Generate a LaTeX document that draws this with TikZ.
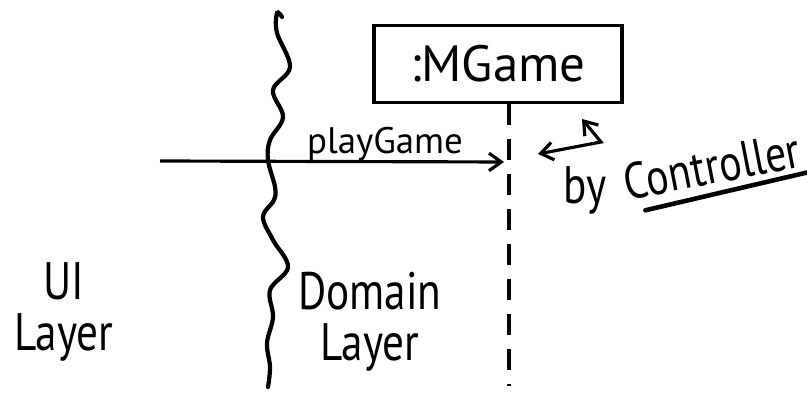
\documentclass[tikz,border=0pt]{standalone}
\usepackage{fontspec}
\newfontfamily\hand{PT Sans}[FakeStretch=0.82]
\newfontfamily\handwide{PT Sans}
\usetikzlibrary{positioning,arrows.meta}

\begin{document}
\begin{tikzpicture}[x=0.02cm, y=-0.02cm,
  obj/.style={draw, line width=2.2pt, minimum width=4.96cm, minimum height=1.54cm,
              inner sep=0pt, font=\handwide\fontsize{29}{29}\selectfont},
  lbl/.style={align=center, font=\hand\fontsize{30}{29}\selectfont},
  msgfont/.style={font=\handwide\fontsize{21}{21}\selectfont},
  life/.style={line width=2pt, dash pattern=on 0.42cm off 0.28cm},
  arr/.style={-{Straight Barb[length=7pt,width=10pt]}, line width=1.8pt},
  wave/.style={line width=2.4pt, line cap=round},
  uline/.style={line width=2.6pt, line cap=round},
]
\useasboundingbox (0,0) rectangle (807,404);
% object and its lifeline
\node[obj] (game) at (498,64) {:MGame};
\coordinate (lifeend) at (509,386);
\draw[life] (game.south -| lifeend) -- (lifeend);
% layer boundary
\draw[wave] plot[smooth, tension=0.6] coordinates {(282,17) (277,13) (277,33) (290,67) (273,90)
  (283,117) (270,140) (268,160) (275,187) (274,200) (263,217) (273,240) (288,267)
  (270,290) (273,317) (267,343) (270,367) (268,387)};
% message
\coordinate (msgstart) at (160,161);
\coordinate (msgend) at (504,162);
\draw[arr] (msgstart) -- node[pos=0.654, above=-4pt, msgfont] (msglbl) {playGame} (msgend);
% note
\coordinate (hooktop) at (582,119);
\coordinate (hookbend) at (601,142);
\coordinate (hookleft) at (538,154);
\draw[line width=1.8pt, {Straight Barb[length=7pt,width=10pt]}-{Straight Barb[length=7pt,width=10pt]}]
  (hooktop) -- (hookbend) -- (hookleft);
\node[lbl, inner sep=0pt] (by) at (585,190) {by};
\node[lbl, inner sep=0pt, rotate=11, font=\hand\fontsize{29}{29}\selectfont] (ctrl) at (712,166) {Controller};
\draw[uline] ([xshift=10pt, yshift=-5pt]ctrl.south west) -- ([xshift=6pt, yshift=-2pt]ctrl.south east);
% layer names
\node[lbl] (ui) at (64,312) {UI\\Layer};
\node[lbl] (domain) at (370,322) {Domain\\Layer};
\end{tikzpicture}
\end{document}
